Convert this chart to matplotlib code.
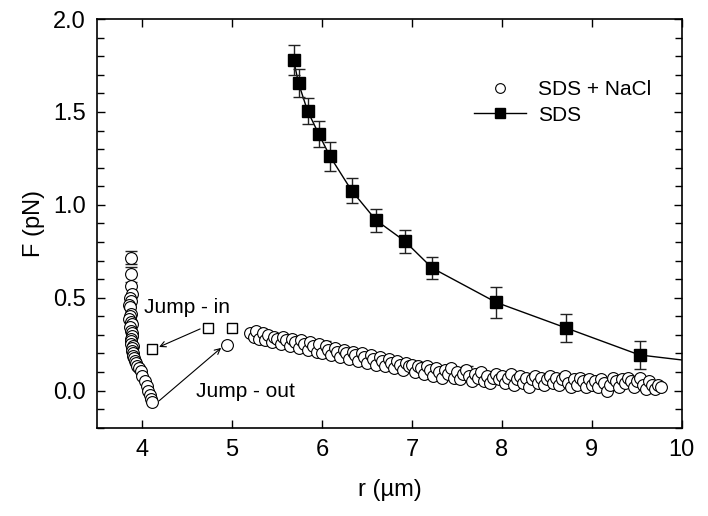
import matplotlib
matplotlib.use("Agg")
import matplotlib.pyplot as plt
from matplotlib.lines import Line2D
from matplotlib.ticker import MultipleLocator

plt.rcParams['font.family'] = ['Liberation Sans', 'DejaVu Sans']

# SDS (filled squares with error bars)
sds_x = [5.685, 5.74, 5.84, 5.963, 6.09, 6.33, 6.60, 6.92, 7.225, 7.937, 8.716, 9.53]
sds_y = [1.78, 1.655, 1.506, 1.383, 1.261, 1.077, 0.918, 0.805, 0.66, 0.475, 0.337, 0.192]
sds_err = [0.08, 0.075, 0.07, 0.07, 0.08, 0.065, 0.062, 0.062, 0.06, 0.083, 0.075, 0.077]

# curve through the SDS points, running on to the right edge
fit_x = [5.685, 5.74, 5.84, 5.963, 6.09, 6.33, 6.60, 6.92, 7.225, 7.937, 8.716, 9.53, 10.0]
fit_y = [1.78, 1.655, 1.506, 1.383, 1.261, 1.077, 0.918, 0.805, 0.66, 0.475, 0.337, 0.192, 0.165]

# SDS + NaCl: approach near contact
near_x = [3.875, 3.875, 3.88, 3.89, 3.87, 3.875, 3.86, 3.87, 3.875, 3.865,
          3.86, 3.88, 3.885, 3.87, 3.875, 3.89, 3.885, 3.88, 3.875, 3.88,
          3.90, 3.89, 3.885, 3.895, 3.90, 3.91, 3.92, 3.935, 3.949, 3.965,
          3.986, 4.004, 4.034, 4.06, 4.071, 4.087, 4.098, 4.115]
near_y = [0.716, 0.627, 0.564, 0.52, 0.50, 0.483, 0.46, 0.449, 0.412, 0.40,
          0.385, 0.37, 0.358, 0.34, 0.32, 0.31, 0.296, 0.28, 0.268, 0.25,
          0.242, 0.228, 0.215, 0.20, 0.188, 0.175, 0.161, 0.148, 0.135, 0.12,
          0.108, 0.081, 0.054, 0.027, 0.0, -0.026, -0.044, -0.062]

# jump-out point
jump_out_x = [4.95]
jump_out_y = [0.245]

# SDS + NaCl: far range
far_x = [5.20, 5.24, 5.27, 5.30, 5.34, 5.37, 5.40, 5.44, 5.47, 5.50,
         5.54, 5.57, 5.60, 5.64, 5.67, 5.70, 5.74, 5.77, 5.80, 5.84,
         5.87, 5.90, 5.94, 5.97, 6.00, 6.04, 6.07, 6.10, 6.14, 6.17,
         6.20, 6.24, 6.27, 6.30, 6.34, 6.37, 6.40, 6.44, 6.47, 6.50,
         6.54, 6.57, 6.60, 6.64, 6.67, 6.70, 6.74, 6.77, 6.80, 6.84,
         6.87, 6.90, 6.94, 6.97, 7.00, 7.04, 7.07, 7.10, 7.14, 7.17,
         7.20, 7.24, 7.27, 7.30, 7.34, 7.37, 7.40, 7.44, 7.47, 7.50,
         7.54, 7.57, 7.60, 7.64, 7.67, 7.70, 7.74, 7.77, 7.80, 7.84,
         7.87, 7.90, 7.94, 7.97, 8.00, 8.04, 8.07, 8.10, 8.14, 8.17,
         8.20, 8.24, 8.27, 8.30, 8.34, 8.37, 8.40, 8.44, 8.47, 8.50,
         8.54, 8.57, 8.60, 8.64, 8.67, 8.70, 8.74, 8.77, 8.80, 8.84,
         8.87, 8.90, 8.94, 8.97, 9.00, 9.04, 9.07, 9.10, 9.14, 9.17,
         9.20, 9.24, 9.27, 9.30, 9.34, 9.37, 9.40, 9.44, 9.47, 9.50,
         9.54, 9.57, 9.60, 9.64, 9.67, 9.70, 9.74, 9.77]
far_y = [0.31, 0.29, 0.32, 0.28, 0.31, 0.27, 0.30, 0.26, 0.29, 0.28,
         0.25, 0.29, 0.27, 0.24, 0.28, 0.26, 0.23, 0.27, 0.25, 0.22,
         0.26, 0.24, 0.21, 0.25, 0.20, 0.24, 0.22, 0.19, 0.23, 0.21,
         0.18, 0.22, 0.20, 0.17, 0.21, 0.19, 0.16, 0.20, 0.18, 0.15,
         0.19, 0.17, 0.14, 0.18, 0.16, 0.13, 0.17, 0.15, 0.12, 0.16,
         0.14, 0.11, 0.15, 0.13, 0.14, 0.10, 0.13, 0.12, 0.09, 0.13,
         0.11, 0.08, 0.12, 0.10, 0.07, 0.11, 0.09, 0.12, 0.07, 0.10,
         0.06, 0.09, 0.11, 0.08, 0.05, 0.09, 0.07, 0.10, 0.05, 0.08,
         0.04, 0.07, 0.09, 0.06, 0.08, 0.04, 0.07, 0.09, 0.03, 0.06,
         0.08, 0.04, 0.07, 0.02, 0.06, 0.08, 0.04, 0.07, 0.03, 0.06,
         0.08, 0.04, 0.07, 0.03, 0.06, 0.08, 0.04, 0.02, 0.06, 0.03,
         0.07, 0.05, 0.02, 0.06, 0.03, 0.05, 0.02, 0.06, 0.04, 0.00,
         0.03, 0.07, 0.05, 0.02, 0.06, 0.04, 0.07, 0.05, 0.02, 0.05,
         0.07, 0.03, 0.01, 0.05, 0.03, 0.01, 0.03, 0.02]

# error bars shown on a few SDS + NaCl points
nacl_eb_x = [3.875, 3.875, 5.30, 5.64, 6.03, 6.47, 7.61, 8.47, 9.37]
nacl_eb_y = [0.716, 0.627, 0.30, 0.27, 0.24, 0.19, 0.10, 0.06, 0.05]
nacl_eb_err = [0.035, 0.04, 0.03, 0.03, 0.025, 0.025, 0.03, 0.03, 0.025]

# jump-in points (open squares)
jump_in_x = [4.11, 4.735, 5.0]
jump_in_y = [0.225, 0.337, 0.337]

fig = plt.figure(figsize=(7.08, 5.16), dpi=100)
ax = fig.add_axes([0.137, 0.171, 0.826, 0.792])

ax.plot(fit_x, fit_y, color='black', lw=1.0, zorder=2)
ax.errorbar(sds_x, sds_y, yerr=sds_err, fmt='s', color='black', ms=8,
            ecolor='#222222', elinewidth=1.0, capsize=4.5, capthick=1.0, zorder=3)

ax.errorbar(nacl_eb_x, nacl_eb_y, yerr=nacl_eb_err, fmt='none',
            ecolor='#222222', elinewidth=1.0, capsize=4.5, capthick=1.0, zorder=1)
circ = dict(marker='o', ls='none', ms=8.5, mfc='white', mec='black', mew=0.8, zorder=2)
ax.plot(far_x, far_y, **circ)
ax.plot(near_x, near_y, **circ)
ax.plot(jump_out_x, jump_out_y, **circ)

ax.errorbar(jump_in_x[2:], jump_in_y[2:], yerr=[0.012], fmt='none',
            ecolor='#444444', elinewidth=0.8, capsize=3.5, zorder=1)
ax.plot(jump_in_x, jump_in_y, marker='s', ls='none', ms=7.5, mfc='white',
        mec='black', mew=1.0, zorder=3)

ax.text(4.023, 0.45, 'Jump - in', fontsize=15, ha='left', va='center')
ax.text(4.602, -0.005, 'Jump - out', fontsize=15, ha='left', va='center')
arrow = dict(arrowstyle='->', color='black', lw=0.8, shrinkA=0, shrinkB=0)
ax.annotate('', xy=(4.19, 0.235), xytext=(4.646, 0.332), arrowprops=arrow)
ax.annotate('', xy=(4.88, 0.23), xytext=(4.19, -0.055), arrowprops=arrow)

ax.set_xlim(3.5, 10)
ax.set_ylim(-0.2, 2.0)
ax.xaxis.set_major_locator(MultipleLocator(1))
ax.yaxis.set_major_locator(MultipleLocator(0.5))
ax.yaxis.set_minor_locator(MultipleLocator(0.1))
ax.yaxis.set_major_formatter(plt.FormatStrFormatter('%.1f'))
ax.tick_params(which='both', direction='in', top=True, right=True,
               labelsize=17, width=1.0)
ax.tick_params(which='major', length=6, pad=8)
ax.tick_params(which='minor', length=5)
for s in ax.spines.values():
    s.set_linewidth(1.2)

ax.set_xlabel('r (µm)', fontsize=17, labelpad=13)
ax.set_ylabel('F (pN)', fontsize=17, labelpad=6)

handles = [
    Line2D([], [], marker='o', ls='none', ms=7, mfc='white', mec='black', mew=0.8),
    Line2D([], [], marker='s', color='black', lw=1.0, ms=7.5),
]
ax.legend(handles, ['SDS + NaCl', 'SDS'], loc='upper left',
          bbox_to_anchor=(0.644, 0.85), frameon=False, fontsize=15,
          handlelength=2.5, handletextpad=0.6, borderpad=0, labelspacing=0.3,
          borderaxespad=0)

fig.savefig('out.png', dpi=100)
